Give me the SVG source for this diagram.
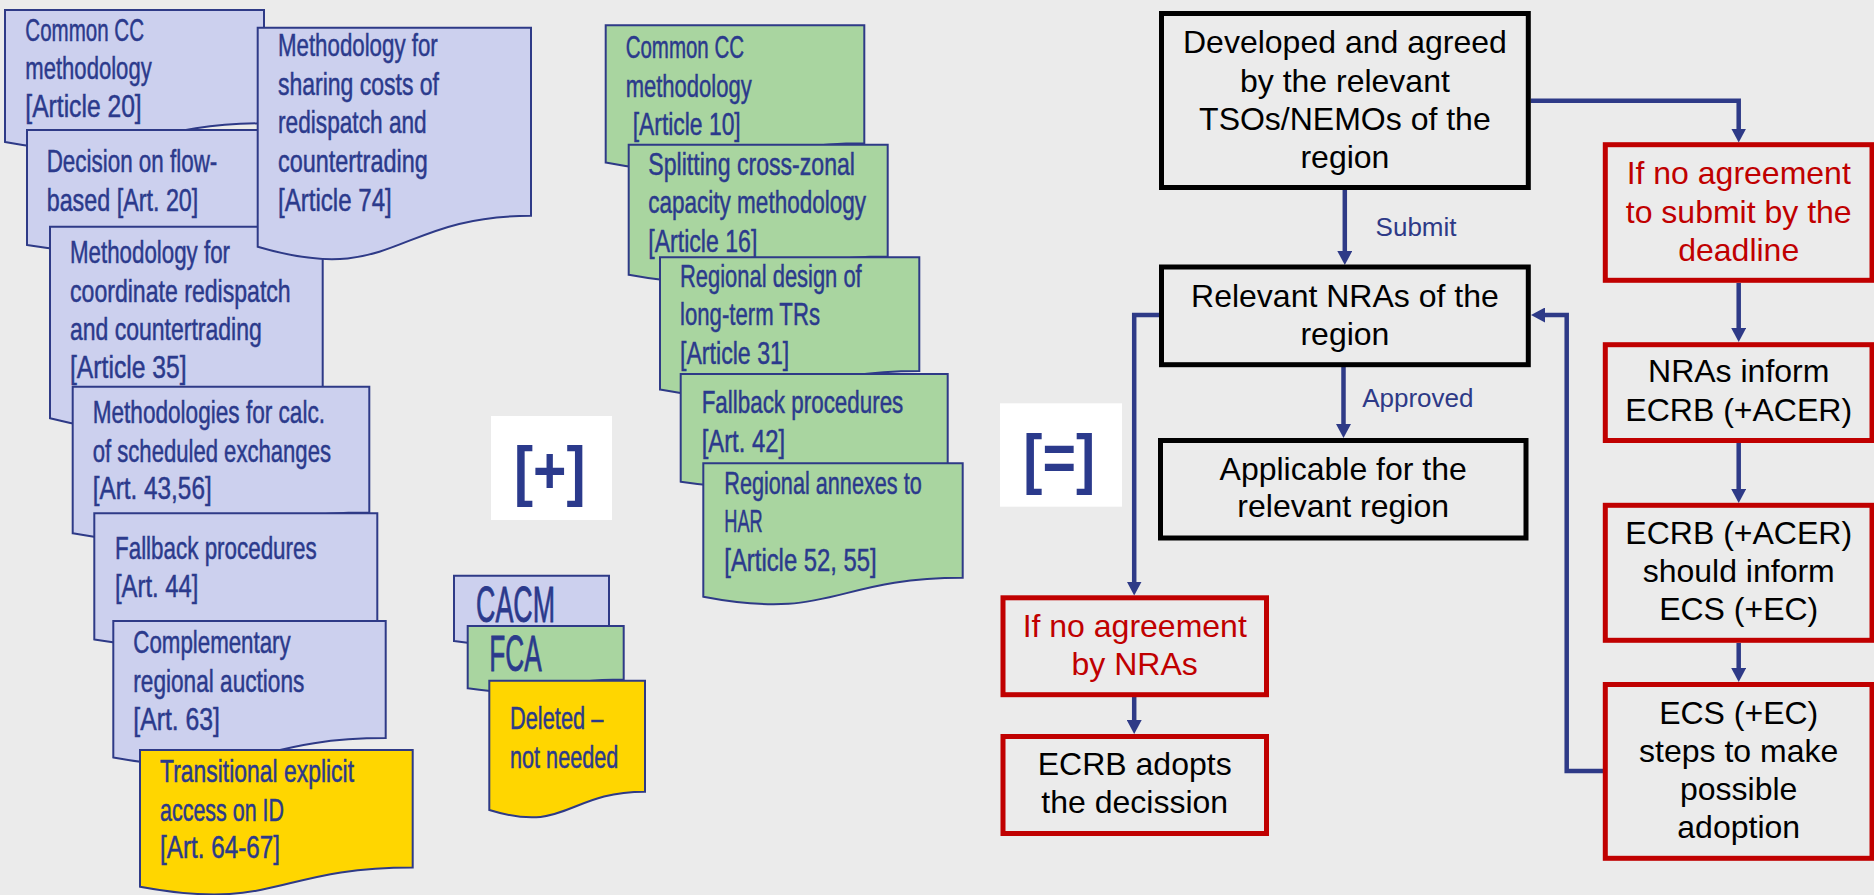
<svg xmlns="http://www.w3.org/2000/svg" width="1874" height="895" viewBox="0 0 1874 895">
<defs>
<style>
.doc{stroke:#2E3A87;stroke-width:2}
.b{fill:#CCD0EE}.g{fill:#A9D5A0}.y{fill:#FFD600}
.dt{font-family:"Liberation Sans Narrow","Liberation Sans",Arial,sans-serif;font-size:32px;fill:#2B3A8C;stroke:#2B3A8C;stroke-width:0.5}
.lg{font-family:"Liberation Sans Narrow","Liberation Sans",Arial,sans-serif;font-size:50px;fill:#2B3A8C;stroke:#2B3A8C;stroke-width:0.8}
.br{font-family:"Liberation Sans","DejaVu Sans",Arial,sans-serif;font-size:67px;font-weight:bold;fill:#2B3A8C}
.ft{font-family:"Liberation Sans",Arial,sans-serif;font-size:32px;fill:#000;text-anchor:middle}
.rt{fill:#C00000}
.lbl{font-family:"Liberation Sans",Arial,sans-serif;font-size:26px;fill:#2E3A87}
.bk{fill:none;stroke:#000;stroke-width:5}
.rd{fill:none;stroke:#C00000;stroke-width:5}
.cn{fill:none;stroke:#2E3A87;stroke-width:4.5;stroke-linejoin:miter;marker-end:url(#ah)}
</style>
<marker id="ah" viewBox="0 0 14 15" refX="4" refY="7.5" markerWidth="14" markerHeight="15" markerUnits="userSpaceOnUse" orient="auto">
<path d="M0,0 L14,7.5 L0,15 Z" fill="#2E3A87"/>
</marker>
</defs>
<rect width="1874" height="895" fill="#EBEBEB"/>

<!-- CACM documents -->
<g id="cacm-common-cc">
<path class="doc b" d="M5,10 H264 V123.3 C134.5,123.3 134.5,166.5 5,142 Z"/>
<text class="dt" x="25.3" y="40.7" textLength="118.7" lengthAdjust="spacingAndGlyphs">Common CC</text>
<text class="dt" x="25.3" y="79" textLength="126.4" lengthAdjust="spacingAndGlyphs">methodology</text>
<text class="dt" x="25.3" y="116.7" textLength="116.4" lengthAdjust="spacingAndGlyphs">[Article 20]</text>
</g>
<g id="cacm-flow-based">
<path class="doc b" d="M27,130 H287 V228.6 C157,228.6 157,266.2 27,244.9 Z"/>
<text class="dt" x="46.7" y="171.7" textLength="170.6" lengthAdjust="spacingAndGlyphs">Decision on flow-</text>
<text class="dt" x="46.7" y="210.7" textLength="151.6" lengthAdjust="spacingAndGlyphs">based [Art. 20]</text>
</g>
<g id="cacm-redispatch">
<path class="doc b" d="M50,226.7 H322.7 V391.1 C186.4,391.1 186.4,453.7 50,418.2 Z"/>
<text class="dt" x="70" y="263.3" textLength="160" lengthAdjust="spacingAndGlyphs">Methodology for</text>
<text class="dt" x="70" y="301.7" textLength="220.7" lengthAdjust="spacingAndGlyphs">coordinate redispatch</text>
<text class="dt" x="70" y="340" textLength="191.7" lengthAdjust="spacingAndGlyphs">and countertrading</text>
<text class="dt" x="70" y="378.3" textLength="116.7" lengthAdjust="spacingAndGlyphs">[Article 35]</text>
</g>
<g id="cacm-cost-sharing">
<path class="doc b" d="M257.7,27.7 H531 V215.8 C394.4,215.8 394.4,287.4 257.7,246.7 Z"/>
<text class="dt" x="278" y="56" textLength="159.7" lengthAdjust="spacingAndGlyphs">Methodology for</text>
<text class="dt" x="278" y="95" textLength="161" lengthAdjust="spacingAndGlyphs">sharing costs of</text>
<text class="dt" x="278" y="133.3" textLength="148.7" lengthAdjust="spacingAndGlyphs">redispatch and</text>
<text class="dt" x="278" y="171.7" textLength="149.7" lengthAdjust="spacingAndGlyphs">countertrading</text>
<text class="dt" x="278" y="210.7" textLength="113.7" lengthAdjust="spacingAndGlyphs">[Article 74]</text>
</g>
<g id="cacm-scheduled">
<path class="doc b" d="M72.7,386.7 H369.3 V512.6 C221,512.6 221,560.6 72.7,533.3 Z"/>
<text class="dt" x="92.7" y="423.3" textLength="232.3" lengthAdjust="spacingAndGlyphs">Methodologies for calc.</text>
<text class="dt" x="92.7" y="461.7" textLength="238.3" lengthAdjust="spacingAndGlyphs">of scheduled exchanges</text>
<text class="dt" x="92.7" y="499.3" textLength="119" lengthAdjust="spacingAndGlyphs">[Art. 43,56]</text>
</g>
<g id="cacm-fallback">
<path class="doc b" d="M94.3,513.3 H377.3 V621.6 C235.8,621.6 235.8,662.8 94.3,639.4 Z"/>
<text class="dt" x="115" y="559.3" textLength="201.7" lengthAdjust="spacingAndGlyphs">Fallback procedures</text>
<text class="dt" x="115" y="597.3" textLength="83.3" lengthAdjust="spacingAndGlyphs">[Art. 44]</text>
</g>
<g id="cacm-auctions">
<path class="doc b" d="M113.3,621 H385.7 V738.1 C249.5,738.1 249.5,782.7 113.3,757.4 Z"/>
<text class="dt" x="133.3" y="653.3" textLength="157.4" lengthAdjust="spacingAndGlyphs">Complementary</text>
<text class="dt" x="133.3" y="691.7" textLength="171" lengthAdjust="spacingAndGlyphs">regional auctions</text>
<text class="dt" x="133.3" y="730" textLength="86.7" lengthAdjust="spacingAndGlyphs">[Art. 63]</text>
</g>
<g id="cacm-transitional">
<path class="doc y" d="M140,750 H412.7 V867.4 C276.4,867.4 276.4,912.1 140,886.7 Z"/>
<text class="dt" x="160" y="781.7" textLength="194" lengthAdjust="spacingAndGlyphs">Transitional explicit</text>
<text class="dt" x="160" y="820.7" textLength="124" lengthAdjust="spacingAndGlyphs">access on ID</text>
<text class="dt" x="160" y="858.3" textLength="120" lengthAdjust="spacingAndGlyphs">[Art. 64-67]</text>
</g>

<!-- [+] -->
<g id="plus-sign">
<rect x="491" y="416" width="121" height="104" fill="#FFFFFF"/>
<text class="br" x="514" y="493" textLength="71.5" lengthAdjust="spacingAndGlyphs">[+]</text>
</g>

<!-- Legend -->
<g id="legend-cacm">
<path class="doc b" d="M454,575.7 H609 V631.8 C531.5,631.8 531.5,653.2 454,641.1 Z"/>
<text class="lg" x="476" y="622.3" textLength="79" lengthAdjust="spacingAndGlyphs">CACM</text>
</g>
<g id="legend-fca">
<path class="doc g" d="M467.7,626 H623.7 V679.5 C545.7,679.5 545.7,699.9 467.7,688.3 Z"/>
<text class="lg" x="489.3" y="671" textLength="52.4" lengthAdjust="spacingAndGlyphs">FCA</text>
</g>
<g id="legend-deleted">
<path class="doc y" d="M489.3,680.7 H645 V791.7 C567.2,791.7 567.2,834 489.3,810 Z"/>
<text class="dt" x="510" y="729" textLength="93.3" lengthAdjust="spacingAndGlyphs">Deleted –</text>
<text class="dt" x="510" y="767.7" textLength="108.3" lengthAdjust="spacingAndGlyphs">not needed</text>
</g>

<!-- FCA documents -->
<g id="fca-common-cc">
<path class="doc g" d="M605.7,25.3 H864.3 V143.2 C735,143.2 735,188.1 605.7,162.6 Z"/>
<text class="dt" x="625.7" y="58.3" textLength="118.3" lengthAdjust="spacingAndGlyphs">Common CC</text>
<text class="dt" x="625.7" y="96.7" textLength="126" lengthAdjust="spacingAndGlyphs">methodology</text>
<text class="dt" x="632.7" y="135" textLength="108" lengthAdjust="spacingAndGlyphs">[Article 10]</text>
</g>
<g id="fca-splitting">
<path class="doc g" d="M628.7,144.7 H887.7 V256.4 C758.2,256.4 758.2,299 628.7,274.8 Z"/>
<text class="dt" x="648.3" y="175" textLength="206.7" lengthAdjust="spacingAndGlyphs">Splitting cross-zonal</text>
<text class="dt" x="648.3" y="212.7" textLength="217.7" lengthAdjust="spacingAndGlyphs">capacity methodology</text>
<text class="dt" x="648.3" y="251.5" textLength="109" lengthAdjust="spacingAndGlyphs">[Article 16]</text>
</g>
<g id="fca-long-term">
<path class="doc g" d="M660,257.2 H919.3 V370.9 C789.6,370.9 789.6,414.2 660,389.6 Z"/>
<text class="dt" x="680" y="287" textLength="181.7" lengthAdjust="spacingAndGlyphs">Regional design of</text>
<text class="dt" x="680" y="324.5" textLength="140" lengthAdjust="spacingAndGlyphs">long-term TRs</text>
<text class="dt" x="680" y="363.6" textLength="109.3" lengthAdjust="spacingAndGlyphs">[Article 31]</text>
</g>
<g id="fca-fallback">
<path class="doc g" d="M680.7,373.9 H947.7 V466.5 C814.2,466.5 814.2,501.7 680.7,481.7 Z"/>
<text class="dt" x="701.7" y="413.3" textLength="201.6" lengthAdjust="spacingAndGlyphs">Fallback procedures</text>
<text class="dt" x="701.7" y="451.7" textLength="83.3" lengthAdjust="spacingAndGlyphs">[Art. 42]</text>
</g>
<g id="fca-har">
<path class="doc g" d="M703.3,463.3 H962.7 V577.8 C833,577.8 833,621.5 703.3,596.7 Z"/>
<text class="dt" x="724.3" y="494.3" textLength="197.4" lengthAdjust="spacingAndGlyphs">Regional annexes to</text>
<text class="dt" x="724.3" y="532.3" textLength="38.4" lengthAdjust="spacingAndGlyphs">HAR</text>
<text class="dt" x="724.3" y="570.7" textLength="152.4" lengthAdjust="spacingAndGlyphs">[Article 52, 55]</text>
</g>

<!-- [=] -->
<g id="equals-sign">
<rect x="1000" y="403.3" width="122" height="103.4" fill="#FFFFFF"/>
<text class="br" x="1023.3" y="481" textLength="71.7" lengthAdjust="spacingAndGlyphs">[=]</text>
</g>

<!-- Connectors -->
<g id="connectors">
<path class="cn" d="M1344.8,189 V255"/>
<path class="cn" d="M1343.5,367 V428"/>
<path class="cn" d="M1530.7,100.7 H1738.7 V132.5"/>
<path class="cn" d="M1738.7,283 V332"/>
<path class="cn" d="M1738.7,443 V493"/>
<path class="cn" d="M1738.7,643 V672"/>
<path class="cn" d="M1603,771 H1566.7 V315 H1541"/>
<path class="cn" d="M1159,315 H1134.2 V585.5"/>
<path class="cn" d="M1134.2,697 V724"/>
<text class="lbl" x="1375.6" y="236">Submit</text>
<text class="lbl" x="1362.2" y="407.3">Approved</text>
</g>

<!-- Flow boxes -->
<g id="developed">
<rect class="bk" x="1161.5" y="13.5" width="366.8" height="174"/>
<text class="ft" x="1344.9" y="53.3">Developed and agreed</text>
<text class="ft" x="1344.9" y="91.7">by the relevant</text>
<text class="ft" x="1344.9" y="130">TSOs/NEMOs of the</text>
<text class="ft" x="1344.9" y="168.3">region</text>
</g>
<g id="nras">
<rect class="bk" x="1161.5" y="267" width="366.8" height="97.7"/>
<text class="ft" x="1344.9" y="307.3">Relevant NRAs of the</text>
<text class="ft" x="1344.9" y="345">region</text>
</g>
<g id="applicable">
<rect class="bk" x="1160.5" y="440.5" width="365.5" height="97.5"/>
<text class="ft" x="1343.2" y="480">Applicable for the</text>
<text class="ft" x="1343.2" y="517.3">relevant region</text>
</g>
<g id="no-agreement-submit">
<rect class="rd" x="1605.3" y="144.7" width="266.7" height="135.6"/>
<text class="ft rt" x="1738.7" y="184.3">If no agreement</text>
<text class="ft rt" x="1738.7" y="222.7">to submit by the</text>
<text class="ft rt" x="1738.7" y="261">deadline</text>
</g>
<g id="nras-inform">
<rect class="rd" x="1605.3" y="344.7" width="266.7" height="95.8"/>
<text class="ft" x="1738.7" y="381.7">NRAs inform</text>
<text class="ft" x="1738.7" y="420.7">ECRB (+ACER)</text>
</g>
<g id="ecrb-inform">
<rect class="rd" x="1605.3" y="505.3" width="266.7" height="135"/>
<text class="ft" x="1738.7" y="544.3">ECRB (+ACER)</text>
<text class="ft" x="1738.7" y="581.7">should inform</text>
<text class="ft" x="1738.7" y="620">ECS (+EC)</text>
</g>
<g id="ecs-steps">
<rect class="rd" x="1605.3" y="684.5" width="266.7" height="173.8"/>
<text class="ft" x="1738.7" y="724.3">ECS (+EC)</text>
<text class="ft" x="1738.7" y="761.7">steps to make</text>
<text class="ft" x="1738.7" y="800">possible</text>
<text class="ft" x="1738.7" y="838.3">adoption</text>
</g>
<g id="no-agreement-nras">
<rect class="rd" x="1003" y="597.8" width="263.5" height="96.9"/>
<text class="ft rt" x="1134.7" y="636.7">If no agreement</text>
<text class="ft rt" x="1134.7" y="675">by NRAs</text>
</g>
<g id="ecrb-adopts">
<rect class="rd" x="1003" y="736.5" width="263.5" height="97"/>
<text class="ft" x="1134.7" y="775">ECRB adopts</text>
<text class="ft" x="1134.7" y="813.3">the decission</text>
</g>
</svg>
